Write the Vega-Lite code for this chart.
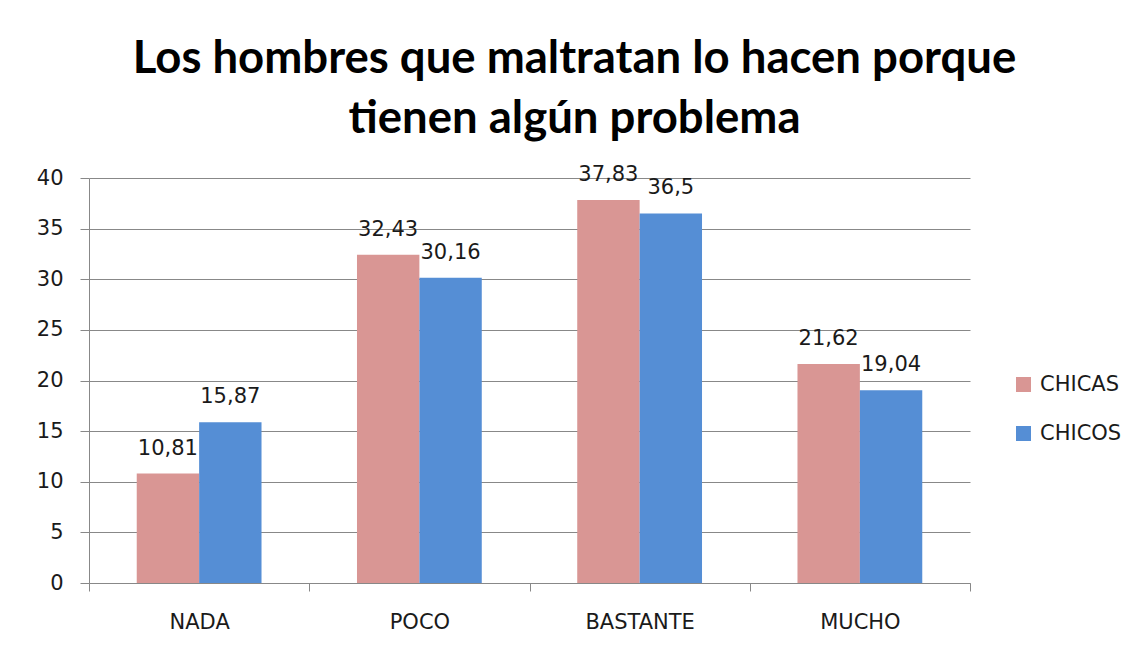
{
  "$schema": "https://vega.github.io/schema/vega-lite/v6.json",
  "width": 881,
  "height": 405,
  "autosize": {"type": "none"},
  "padding": {"left": 89, "top": 178, "right": 170, "bottom": 83},
  "background": "white",
  "config": {
    "locale": {"number": {"decimal": ",", "thousands": ".", "grouping": [3], "currency": ["", " €"]}},
    "view": {"stroke": null},
    "font": "DejaVu Sans"
  },
  "title": {
    "text": ["Los hombres que maltratan lo hacen porque", "tienen algún problema"],
    "font": "Lato",
    "fontSize": 45.5,
    "fontWeight": "bold",
    "color": "#000000",
    "anchor": "middle",
    "dx": 45,
    "lineHeight": 60,
    "offset": 21
  },
  "data": {
    "values": [
      {"categoria": "NADA", "sexo": "CHICAS", "valor": 10.81},
      {"categoria": "NADA", "sexo": "CHICOS", "valor": 15.87},
      {"categoria": "POCO", "sexo": "CHICAS", "valor": 32.43},
      {"categoria": "POCO", "sexo": "CHICOS", "valor": 30.16},
      {"categoria": "BASTANTE", "sexo": "CHICAS", "valor": 37.83},
      {"categoria": "BASTANTE", "sexo": "CHICOS", "valor": 36.5},
      {"categoria": "MUCHO", "sexo": "CHICAS", "valor": 21.62},
      {"categoria": "MUCHO", "sexo": "CHICOS", "valor": 19.04}
    ]
  },
  "encoding": {
    "x": {
      "field": "categoria",
      "type": "nominal",
      "sort": ["NADA", "POCO", "BASTANTE", "MUCHO"],
      "scale": {"paddingInner": 0, "paddingOuter": 0},
      "axis": {
        "title": null,
        "tickBand": "extent",
        "tickSize": 8,
        "labelPadding": 20,
        "labelAngle": 0,
        "domainColor": "#888888",
        "tickColor": "#888888",
        "labelFontSize": 21,
        "labelColor": "#1a1a1a",
        "grid": false
      }
    },
    "xOffset": {
      "field": "sexo",
      "sort": ["CHICAS", "CHICOS"],
      "scale": {"paddingInner": 0, "paddingOuter": 0.765}
    },
    "y": {
      "field": "valor",
      "type": "quantitative",
      "scale": {"domain": [0, 40], "nice": false},
      "axis": {
        "title": null,
        "values": [0, 5, 10, 15, 20, 25, 30, 35, 40],
        "tickSize": 9,
        "labelPadding": 17,
        "domainColor": "#888888",
        "tickColor": "#888888",
        "gridColor": "#888888",
        "labelFontSize": 21,
        "labelColor": "#1a1a1a"
      }
    }
  },
  "layer": [
    {
      "mark": {"type": "bar"},
      "encoding": {
        "color": {
          "field": "sexo",
          "type": "nominal",
          "sort": ["CHICAS", "CHICOS"],
          "scale": {"domain": ["CHICAS", "CHICOS"], "range": ["#D99694", "#558ED5"]},
          "legend": {
            "orient": "none",
            "legendX": 924,
            "legendY": 196,
            "title": null,
            "symbolType": "square",
            "symbolSize": 225,
            "symbolStrokeWidth": 0,
            "labelFontSize": 21,
            "labelColor": "#1a1a1a",
            "rowPadding": 27,
            "labelOffset": 6
          }
        }
      }
    },
    {
      "mark": {"type": "text", "dy": -19, "baseline": "alphabetic", "fontSize": 21, "color": "#1a1a1a"},
      "encoding": {
        "text": {"field": "valor", "type": "quantitative", "format": ".2~f"}
      }
    }
  ]
}
